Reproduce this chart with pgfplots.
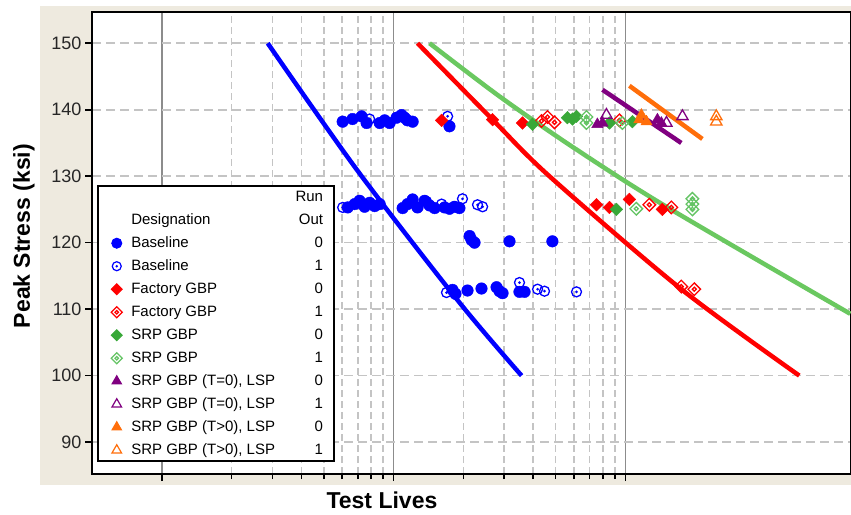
\documentclass[border=0pt]{standalone}
\usepackage{pgfplots}
\pgfplotsset{compat=1.18}
\usepackage{fontspec}
\setmainfont{Liberation Sans}
\definecolor{beige}{RGB}{238,234,223}
\definecolor{mygreen}{RGB}{56,168,56}
\definecolor{lgreen}{RGB}{100,196,100}
\definecolor{linegreen}{RGB}{106,200,96}
\definecolor{mypurple}{RGB}{128,0,128}
\definecolor{myorange}{RGB}{255,110,10}
\definecolor{gridgray}{RGB}{196,196,196}
\definecolor{majgray}{RGB}{140,140,140}

\pgfdeclareplotmark{odot}{%
  \pgfpathcircle{\pgfpointorigin}{\pgfplotmarksize}%
  \pgfusepathqstroke
  \pgfpathcircle{\pgfpointorigin}{0.3\pgfplotmarksize}%
  \pgfusepathqfill}
\pgfdeclareplotmark{fdiamond}{%
  \pgfpathmoveto{\pgfpoint{0pt}{\pgfplotmarksize}}%
  \pgfpathlineto{\pgfpoint{\pgfplotmarksize}{0pt}}%
  \pgfpathlineto{\pgfpoint{0pt}{-\pgfplotmarksize}}%
  \pgfpathlineto{\pgfpoint{-\pgfplotmarksize}{0pt}}%
  \pgfpathclose
  \pgfusepathqfillstroke}
\pgfdeclareplotmark{odiamond}{%
  \pgfpathmoveto{\pgfpoint{0pt}{\pgfplotmarksize}}%
  \pgfpathlineto{\pgfpoint{\pgfplotmarksize}{0pt}}%
  \pgfpathlineto{\pgfpoint{0pt}{-\pgfplotmarksize}}%
  \pgfpathlineto{\pgfpoint{-\pgfplotmarksize}{0pt}}%
  \pgfpathclose
  \pgfusepathqstroke
  \pgfpathmoveto{\pgfpoint{0pt}{0.32\pgfplotmarksize}}%
  \pgfpathlineto{\pgfpoint{0.32\pgfplotmarksize}{0pt}}%
  \pgfpathlineto{\pgfpoint{0pt}{-0.32\pgfplotmarksize}}%
  \pgfpathlineto{\pgfpoint{-0.32\pgfplotmarksize}{0pt}}%
  \pgfpathclose
  \pgfusepathqstroke}

\newcommand{\num}[1]{\makebox[38pt][r]{#1}}

\begin{document}
\begin{tikzpicture}
\useasboundingbox (-92pt,-40pt) rectangle (759pt,474pt);
\fill[white] (-92pt,-40pt) rectangle (759pt,474pt);
\fill[beige] (-52pt,-11pt) rectangle (759pt,468pt);
\begin{axis}[
  scale only axis, width=759pt, height=462pt,
  at={(0pt,0pt)}, anchor=south west,
  xmode=log, xmin=5000, xmax=9.4e6, ymin=85.2, ymax=154.7,
  axis background/.style={fill=white},
  xtick={1e4,1e5,1e6}, xticklabels={},
  ytick={90,100,110,120,130,140,150},
  tick align=outside, xtick pos=bottom, ytick pos=left,
  major tick length=7pt, minor tick length=5pt,
  every tick/.style={black, line width=1.6pt},
  xmajorgrids, xminorgrids, ymajorgrids,
  major x grid style={majgray, line width=1.6pt},
  minor x grid style={gridgray, dash pattern=on 7pt off 4pt, line width=1.6pt},
  major y grid style={gridgray, dash pattern=on 9pt off 5pt, line width=1.6pt},
  axis line style={black, line width=2.6pt},
  tick label style={font=\fontsize{18}{20}\selectfont, text=black!85},
  /pgf/number format/assume math mode=true,
  xlabel={\textbf{Test Lives}}, ylabel={\textbf{Peak Stress (ksi)}},
  xlabel style={at={(axis description cs:0.382,-0.0563)}, anchor=center, font=\fontsize{23}{26}\selectfont},
  ylabel style={at={(axis description cs:-0.0896,0.515)}, anchor=center, font=\fontsize{23}{26}\selectfont},
  legend columns=2, legend cell align=left,
  legend style={at={(axis description cs:0.0066,0.6255)}, anchor=north west,
    draw=black, line width=2.4pt, fill=white,
    font=\fontsize{15}{17}\selectfont,
    inner xsep=10pt, inner ysep=3pt, row sep=7pt,
    nodes={inner sep=1pt, text height=11pt, text depth=3pt},
    /tikz/every odd column/.append style={column sep=8pt}},
]
% ---------- data ----------
\addplot[forget plot, only marks, mark=*, mark size=5.8pt, blue, fill=blue] coordinates {
(6.03e4,138.2) (6.65e4,138.6) (7.28e4,139.0) (7.65e4,138.0) (8.71e4,138.0)
(9.15e4,138.4) (9.61e4,138.0) (1.030e5,138.8) (1.082e5,139.2) (1.115e5,138.8)
(1.148e5,138.4) (1.208e5,138.2) (1.742e5,137.5)
(6.34e4,125.3) (6.79e4,125.8) (7.13e4,126.3) (7.50e4,125.4) (7.88e4,126.0)
(8.28e4,125.5) (8.71e4,125.8)
(1.094e5,125.2) (1.148e5,125.8) (1.208e5,126.5) (1.268e5,125.3) (1.361e5,126.3)
(1.429e5,125.6) (1.503e5,125.2) (1.660e5,125.3) (1.742e5,125.1) (1.832e5,125.4)
(1.923e5,125.2)
(2.128e5,121.0) (2.168e5,120.4) (2.234e5,120.0) (3.162e5,120.2) (4.842e5,120.2)
(1.795e5,112.9) (1.849e5,112.3) (2.084e5,112.8) (2.394e5,113.1) (2.780e5,113.3)
(2.864e5,112.7) (2.951e5,112.4) (3.491e5,112.6) (3.672e5,112.6)
};
\addplot[forget plot, only marks, mark=odot, mark size=5pt, blue, line width=1.3pt] coordinates {
(7.88e4,138.6) (1.710e5,139.0)
(6.03e4,125.3) (1.387e5,126.2) (1.611e5,125.8) (1.982e5,126.6) (2.301e5,125.7) (2.420e5,125.4)
(1.691e5,112.5) (3.491e5,114.0) (4.178e5,113.0) (4.477e5,112.7) (6.152e5,112.6)
};
\addplot[forget plot, only marks, mark=fdiamond, mark size=6.3pt, red, fill=red] coordinates {
(1.611e5,138.4) (2.673e5,138.5) (3.597e5,138.0)
(7.499e5,125.7) (8.531e5,125.3) (1.040e6,126.5) (1.442e6,125.0)
};
\addplot[forget plot, only marks, mark=odiamond, mark size=6.3pt, red, line width=1.3pt] coordinates {
(4.345e5,138.3) (4.613e5,138.9) (4.943e5,138.1) (9.419e5,138.4)
(1.268e6,125.7) (1.578e6,125.3) (1.742e6,113.4) (1.982e6,113.0)
};
\addplot[forget plot, only marks, mark=fdiamond, mark size=6.3pt, mygreen, fill=mygreen] coordinates {
(3.972e5,137.8) (5.623e5,138.8) (5.916e5,138.6) (6.152e5,139.0) (8.531e5,138.0)
(1.072e6,138.2) (9.141e5,125.0)
};
\addplot[forget plot, only marks, mark=odiamond, mark size=6.3pt, lgreen, line width=1.3pt] coordinates {
(6.792e5,138.9) (6.792e5,138.0) (9.705e5,138.0) (1.114e6,125.1)
(1.945e6,126.6) (1.945e6,125.8) (1.945e6,125.0)
};
\addplot[forget plot, only marks, mark=triangle*, mark size=6.5pt, mypurple, fill=mypurple] coordinates {
(7.568e5,137.8) (7.962e5,138.0) (1.374e6,138.5) (1.429e6,138.0)
};
\addplot[forget plot, only marks, mark=triangle, mark size=6.5pt, mypurple, line width=1.3pt] coordinates {
(8.28e5,139.2) (1.503e6,138.0) (1.762e6,139.0)
};
\addplot[forget plot, only marks, mark=triangle*, mark size=6.5pt, myorange, fill=myorange] coordinates {
(1.148e6,138.5) (1.172e6,139.2) (1.233e6,138.2)
};
\addplot[forget plot, only marks, mark=triangle, mark size=6.5pt, myorange, line width=1.3pt] coordinates {
(2.466e6,138.2) (2.466e6,139.0)
};
% ---------- fitted lines ----------
\addplot[forget plot, blue, line width=4.5pt, smooth, no marks] coordinates {
(2.864e4,150) (6.93e4,131) (1.923e5,111) (3.565e5,100)
};
\addplot[forget plot, red, line width=4.5pt, smooth, no marks] coordinates {
(1.268e5,150) (2.673e5,138.5) (4.699e5,130) (1.742e6,113) (5.623e6,100)
};
\addplot[forget plot, linegreen, line width=4.5pt, smooth, no marks] coordinates {
(1.429e5,150) (2.864e5,142) (5.916e5,134.4) (1.503e6,125.4) (9.33e6,109.3)
};
\addplot[forget plot, mypurple, line width=4.5pt, no marks] coordinates {
(7.962e5,143.0) (1.742e6,135.0)
};
\addplot[forget plot, myorange, line width=4.5pt, no marks] coordinates {
(1.040e6,143.6) (2.148e6,135.6)
};
% ---------- legend ----------
\addlegendimage{empty legend}\addlegendentry{}
\addlegendimage{empty legend}\addlegendentry{\num{Run}}
\addlegendimage{empty legend}\addlegendentry{Designation}
\addlegendimage{empty legend}\addlegendentry{\num{Out}}
\addlegendimage{only marks, mark=*, mark size=5pt, blue, fill=blue, line width=1pt}\addlegendentry{Baseline}
\addlegendimage{empty legend}\addlegendentry{\num{0}}
\addlegendimage{only marks, mark=odot, mark size=4.5pt, blue, line width=1.2pt}\addlegendentry{Baseline}
\addlegendimage{empty legend}\addlegendentry{\num{1}}
\addlegendimage{only marks, mark=fdiamond, mark size=5.5pt, red, fill=red, line width=1pt}\addlegendentry{Factory GBP}
\addlegendimage{empty legend}\addlegendentry{\num{0}}
\addlegendimage{only marks, mark=odiamond, mark size=5.5pt, red, line width=1.2pt}\addlegendentry{Factory GBP}
\addlegendimage{empty legend}\addlegendentry{\num{1}}
\addlegendimage{only marks, mark=fdiamond, mark size=5.5pt, mygreen, fill=mygreen, line width=1pt}\addlegendentry{SRP GBP}
\addlegendimage{empty legend}\addlegendentry{\num{0}}
\addlegendimage{only marks, mark=odiamond, mark size=5.5pt, lgreen, line width=1.2pt}\addlegendentry{SRP GBP}
\addlegendimage{empty legend}\addlegendentry{\num{1}}
\addlegendimage{only marks, mark=triangle*, mark size=5.5pt, mypurple, fill=mypurple, line width=1pt}\addlegendentry{SRP GBP (T=0), LSP}
\addlegendimage{empty legend}\addlegendentry{\num{0}}
\addlegendimage{only marks, mark=triangle, mark size=5.5pt, mypurple, line width=1.2pt}\addlegendentry{SRP GBP (T=0), LSP}
\addlegendimage{empty legend}\addlegendentry{\num{1}}
\addlegendimage{only marks, mark=triangle*, mark size=5.5pt, myorange, fill=myorange, line width=1pt}\addlegendentry{SRP GBP (T>0), LSP}
\addlegendimage{empty legend}\addlegendentry{\num{0}}
\addlegendimage{only marks, mark=triangle, mark size=5.5pt, myorange, line width=1.2pt}\addlegendentry{SRP GBP (T>0), LSP}
\addlegendimage{empty legend}\addlegendentry{\num{1}}
\end{axis}
\end{tikzpicture}
\end{document}
